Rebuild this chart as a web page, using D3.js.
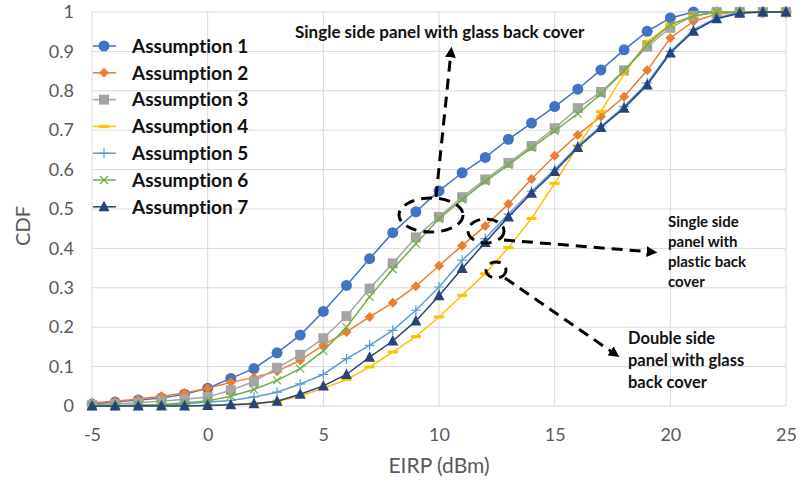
<!DOCTYPE html>
<html>
<head>
<meta charset="utf-8">
<script src="https://cdn.jsdelivr.net/npm/d3@7"></script>
<style>
  body { margin: 0; background: #fff; }
  text { font-family: Lato, "Liberation Sans", sans-serif; font-variant-ligatures: none; }
</style>
</head>
<body>
<script>
const W = 807, H = 482;

// EIRP values (dBm)
const eirp = d3.range(-5, 26);

const seriesNames = ["Assumption 1", "Assumption 2", "Assumption 3", "Assumption 4",
                     "Assumption 5", "Assumption 6", "Assumption 7"];

const a1 = [0.005,0.01,0.015,0.02,0.03,0.045,0.07,0.095,0.135,0.18,0.24,0.306,0.374,0.44,0.493,0.546,0.592,0.631,0.677,0.718,0.76,0.804,0.853,0.904,0.951,0.985,1,1,1,1,1];
const a2 = [0.008,0.012,0.018,0.025,0.033,0.045,0.06,0.072,0.088,0.116,0.155,0.188,0.226,0.262,0.304,0.356,0.407,0.457,0.513,0.576,0.635,0.688,0.735,0.785,0.852,0.934,0.976,0.995,1,1,1];
const a3 = [0.003,0.005,0.008,0.012,0.017,0.023,0.04,0.062,0.097,0.13,0.172,0.228,0.298,0.362,0.428,0.48,0.53,0.575,0.617,0.66,0.705,0.756,0.797,0.852,0.912,0.96,0.99,1,1,1,1];
const a4 = [0,0,0,0,0,0.001,0.003,0.006,0.012,0.025,0.045,0.067,0.099,0.137,0.176,0.226,0.281,0.336,0.402,0.476,0.565,0.66,0.747,0.843,0.925,0.968,0.99,1,1,1,1];
const a5 = [0,0.001,0.002,0.003,0.005,0.01,0.014,0.023,0.035,0.056,0.08,0.12,0.154,0.192,0.243,0.302,0.37,0.425,0.487,0.545,0.6,0.66,0.71,0.76,0.82,0.9,0.955,0.985,1,1,1];
const a6 = [0,0,0.002,0.004,0.008,0.013,0.025,0.042,0.065,0.095,0.14,0.2,0.277,0.347,0.412,0.475,0.524,0.57,0.612,0.655,0.698,0.742,0.792,0.85,0.918,0.968,0.99,1,1,1,1];
const a7 = [0,0,0,0,0,0.001,0.003,0.006,0.012,0.03,0.051,0.08,0.124,0.165,0.216,0.28,0.349,0.415,0.48,0.54,0.595,0.656,0.707,0.756,0.815,0.896,0.951,0.983,0.997,1,1];
const seriesValues = [a1, a2, a3, a4, a5, a6, a7];

const colors = ["#4472C4", "#ED7D31", "#A5A5A5", "#FFC000", "#5B9BD5", "#70AD47", "#264478"];
const markers = ["circle", "diamond", "square", "dash", "plus", "cross", "triangle"];

const xTicks = [-5, 0, 5, 10, 15, 20, 25];
const yTicks = d3.range(0, 11).map(d => d / 10);

const margin = {left: 92, right: W - 786, top: 12, bottom: H - 406};

const svg = d3.select("body").append("svg")
    .attr("width", W).attr("height", H);

const x = d3.scaleLinear().domain([-5, 25]).range([margin.left, W - margin.right]);
const y = d3.scaleLinear().domain([0, 1]).range([H - margin.bottom, margin.top]);

// gridlines
const grid = svg.append("g");
grid.selectAll(".hg").data(yTicks).join("line")
    .attr("x1", x(-5)).attr("x2", x(25))
    .attr("y1", d => y(d)).attr("y2", d => y(d))
    .attr("stroke", "#d9d9d9").attr("stroke-width", 1);
grid.selectAll(".vg").data(xTicks).join("line")
    .attr("x1", d => x(d)).attr("x2", d => x(d))
    .attr("y1", y(0)).attr("y2", y(1))
    .attr("stroke", "#d9d9d9").attr("stroke-width", 1);

// axes (no domain, labels only)
const xAxis = svg.append("g").attr("transform", `translate(0,${y(0)})`)
    .call(d3.axisBottom(x).tickValues(xTicks).tickSize(0).tickPadding(22).tickFormat(d => String(d)));
const yAxis = svg.append("g").attr("transform", `translate(${x(-5)},0)`)
    .call(d3.axisLeft(y).tickValues(yTicks).tickSize(0).tickPadding(18).tickFormat(d => d === 0 || d === 1 ? d : d.toFixed(1)));
for (const ax of [xAxis, yAxis]) {
    ax.select(".domain").remove();
    ax.selectAll("text").attr("fill", "#595959").style("font-size", "18px")
      .style("font-family", "Lato, 'Liberation Sans', sans-serif");
}

svg.append("text").attr("x", x(10)).attr("y", 473)
    .attr("text-anchor", "middle").attr("fill", "#595959")
    .style("font-size", "21px").text("EIRP (dBm)");
svg.append("text").attr("transform", "translate(30,226) rotate(-90)")
    .attr("text-anchor", "middle").attr("fill", "#595959")
    .style("font-size", "20px").text("CDF");

function drawMarker(g, type, color) {
    switch (type) {
        case "circle":
            g.append("circle").attr("r", 5.5).attr("fill", color); break;
        case "diamond":
            g.append("path").attr("d", "M0,-5L5,0L0,5L-5,0Z").attr("fill", color); break;
        case "square":
            g.append("rect").attr("x", -5).attr("y", -5).attr("width", 10).attr("height", 10).attr("fill", color); break;
        case "dash":
            g.append("rect").attr("x", -5).attr("y", -1.5).attr("width", 10).attr("height", 3).attr("fill", color); break;
        case "plus":
            g.append("path").attr("d", "M-5,0H5M0,-5V5").attr("stroke", color).attr("stroke-width", 1.2); break;
        case "cross":
            g.append("path").attr("d", "M-4,-4L4,4M-4,4L4,-4").attr("stroke", color).attr("stroke-width", 1.2); break;
        case "triangle":
            g.append("path").attr("d", "M0,-6L5.5,4.5L-5.5,4.5Z").attr("fill", color); break;
    }
}

const line = d3.line().x((d, i) => x(eirp[i])).y(d => y(d));

seriesValues.forEach((vals, si) => {
    const g = svg.append("g");
    g.append("path").datum(vals).attr("d", line)
        .attr("fill", "none").attr("stroke", colors[si]).attr("stroke-width", 1.5);
    g.selectAll("g.pt").data(vals).join("g")
        .attr("transform", (d, i) => `translate(${x(eirp[i])},${y(d)})`)
        .each(function() { drawMarker(d3.select(this), markers[si], colors[si]); });
});

// legend
const legend = svg.append("g");
seriesNames.forEach((name, i) => {
    const ly = 46 + i * 26.8;
    legend.append("line").attr("x1", 93).attr("x2", 116).attr("y1", ly).attr("y2", ly)
        .attr("stroke", colors[i]).attr("stroke-width", 1.5);
    drawMarker(legend.append("g").attr("transform", `translate(104,${ly})`), markers[i], colors[i]);
    legend.append("text").attr("x", 132).attr("y", ly).attr("dy", "0.36em")
        .style("font-size", "19px").style("font-weight", "bold").attr("fill", "#111")
        .text(name);
});

// annotations
const ann = svg.append("g").attr("fill", "none").attr("stroke", "#000")
    .attr("stroke-width", 3).attr("stroke-dasharray", "11,7");

svg.append("defs").append("marker").attr("id", "ah")
    .attr("viewBox", "0 0 10 10").attr("refX", 5).attr("refY", 5)
    .attr("markerWidth", 3.6).attr("markerHeight", 3.6).attr("orient", "auto")
    .append("path").attr("d", "M0,0L10,5L0,10Z").attr("fill", "#000");

ann.append("ellipse").attr("cx", 431).attr("cy", 215).attr("rx", 32).attr("ry", 17);
ann.append("line").attr("x1", 436).attr("y1", 197).attr("x2", 451).attr("y2", 52)
    .attr("marker-end", "url(#ah)");

ann.append("ellipse").attr("cx", 486).attr("cy", 231).attr("rx", 18).attr("ry", 12);
ann.append("line").attr("x1", 504).attr("y1", 240).attr("x2", 652).attr("y2", 252)
    .attr("marker-end", "url(#ah)");

ann.append("ellipse").attr("cx", 496).attr("cy", 270).attr("rx", 10).attr("ry", 8);
ann.append("line").attr("x1", 505).attr("y1", 278).attr("x2", 615).attr("y2", 354)
    .attr("marker-end", "url(#ah)");

function multiline(xp, y0, dy, lines, size) {
    const t = svg.append("text").attr("x", xp).attr("y", y0)
        .style("font-size", size + "px").style("font-weight", "bold").attr("fill", "#111");
    lines.forEach((l, i) => t.append("tspan").attr("x", xp).attr("y", y0 + i * dy).text(l));
}
multiline(295, 38, 0, ["Single side panel with glass back cover"], 17);
multiline(668, 227, 20, ["Single side", "panel with", "plastic back", "cover"], 15);
multiline(628, 344, 22, ["Double side", "panel with glass", "back cover"], 16.5);
</script>
</body>
</html>
